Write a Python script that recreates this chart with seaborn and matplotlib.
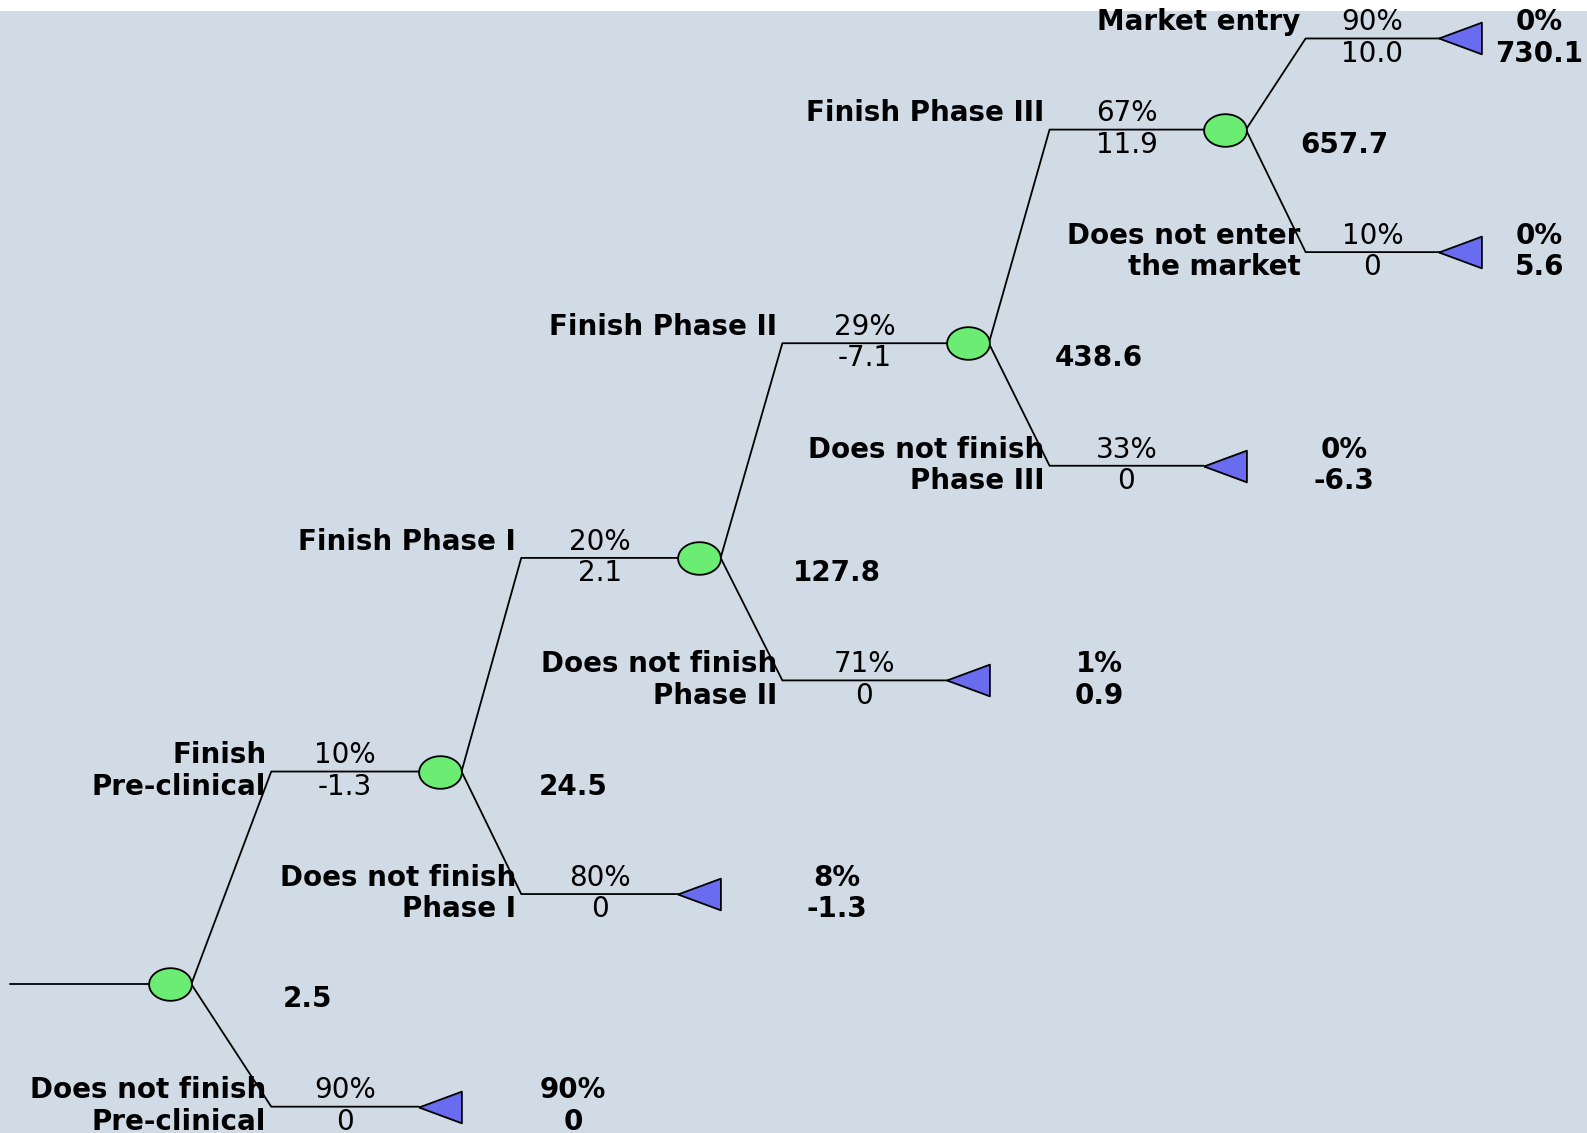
import numpy as np
import pandas as pd
import matplotlib
matplotlib.use("Agg")
import matplotlib.pyplot as plt
import seaborn as sns

# =====================
# data (read off the tree)
# =====================
UP_NAMES = ["Finish\nPre-clinical", "Finish Phase I", "Finish Phase II",
            "Finish Phase III", "Market entry"]
DOWN_NAMES = ["Does not finish\nPre-clinical", "Does not finish\nPhase I",
              "Does not finish\nPhase II", "Does not finish\nPhase III",
              "Does not enter\nthe market"]
P_UP = [10, 20, 29, 67, 90]
P_DOWN = [90, 80, 71, 33, 10]
COST_UP = [-1.3, 2.1, -7.1, 11.9, 10.0]
COST_DOWN = [0, 0, 0, 0, 0]
NODE_VALUES = [2.5, 24.5, 127.8, 438.6, 657.7]
TERM_PROB = [90, 8, 1, 0, 0]        # end of each "does not" branch
TERM_VALUE = [0, -1.3, 0.9, -6.3, 5.6]
TOP_PROB = 0                          # market entry end
TOP_VALUE = 730.1

# =====================
# layout (reference pixel grid)
# =====================
W, H = 1568, 1119
NODE_X = [168, 435, 691, 956, 1210, 1443]
NODE_Y = [972, 762, 551, 339, 128]
CORNER_X = [268, 515, 773, 1037, 1290]
VALUE_X = [304, 566, 827, 1086, 1328, 1521]
TOP_Y = 38
DROP = 121
R = 21
DY_UP, DY_DN = -16, 15

BG = "#d1dbe5"
GREEN = "#6aed72"
BLUE = "#6a6cf0"
FS = 20


def fmt(v):
    return "0" if v == 0 else f"{v:.1f}"


sns.set_theme(style="white")
plt.rcParams["font.family"] = ["DejaVu Sans"]
plt.rcParams["text.color"] = "black"

fig = plt.figure(figsize=(15.87, 11.33), dpi=100, facecolor="white")
ax = fig.add_axes([0, 0, 1, 1 - 11 / 1133])
ax.set_facecolor(BG)

# branch polylines
rows = []
rows += [dict(x=10, y=NODE_Y[0], seg="root"), dict(x=NODE_X[0] - R, y=NODE_Y[0], seg="root")]
for i in range(5):
    up_y = NODE_Y[i + 1] if i < 4 else TOP_Y
    dn_y = NODE_Y[i] + DROP
    for name, yy in (("up", up_y), ("dn", dn_y)):
        seg = f"{name}{i}"
        rows.append(dict(x=NODE_X[i] + R, y=NODE_Y[i], seg=seg))
        rows.append(dict(x=CORNER_X[i], y=yy, seg=seg))
        rows.append(dict(x=NODE_X[i + 1] - R, y=yy, seg=seg))
lines = pd.DataFrame(rows)
sns.lineplot(data=lines, x="x", y="y", units="seg", estimator=None, sort=False,
             color="black", lw=1.3, ax=ax)

# chance nodes (ellipses) and terminal triangles
t = np.linspace(0, 2 * np.pi, 60)
ellipse = np.column_stack([np.cos(t), 32 / 42 * np.sin(t)])
triangle = np.array([[-1, 0], [1, 0.74], [1, -0.74], [-1, 0]])

nodes = pd.DataFrame(dict(x=NODE_X[:5], y=NODE_Y))
sns.scatterplot(data=nodes, x="x", y="y", marker=ellipse, s=950, color=GREEN,
                edgecolor="black", linewidth=1.3, zorder=3, ax=ax)

term_x = [NODE_X[i + 1] for i in range(5)] + [NODE_X[5]]
term_y = [NODE_Y[i] + DROP for i in range(5)] + [TOP_Y]
terms = pd.DataFrame(dict(x=term_x, y=term_y))
sns.scatterplot(data=terms, x="x", y="y", marker=triangle, s=950, color=BLUE,
                edgecolor="black", linewidth=1.3, zorder=3, ax=ax)


def branch_label(name, x, y):
    parts = name.split("\n")
    ax.text(x, y + DY_UP, parts[0], ha="right", va="center", fontsize=FS,
            fontweight="bold")
    if len(parts) > 1:
        ax.text(x, y + DY_DN, parts[1], ha="right", va="center", fontsize=FS,
                fontweight="bold")


def pair(x, y, top, bottom, bold=False):
    w = "bold" if bold else "normal"
    ax.text(x, y + DY_UP, top, ha="center", va="center", fontsize=FS, fontweight=w)
    ax.text(x, y + DY_DN, bottom, ha="center", va="center", fontsize=FS, fontweight=w)


for i in range(5):
    up_y = NODE_Y[i + 1] if i < 4 else TOP_Y
    dn_y = NODE_Y[i] + DROP
    mid = (CORNER_X[i] + NODE_X[i + 1] - R) / 2
    branch_label(UP_NAMES[i], CORNER_X[i] - 5, up_y)
    branch_label(DOWN_NAMES[i], CORNER_X[i] - 5, dn_y)
    pair(mid, up_y, f"{P_UP[i]}%", fmt(COST_UP[i]))
    pair(mid, dn_y, f"{P_DOWN[i]}%", fmt(COST_DOWN[i]))
    ax.text(VALUE_X[i], NODE_Y[i] + DY_DN, f"{NODE_VALUES[i]:.1f}", ha="center",
            va="center", fontsize=FS, fontweight="bold")
    pair(VALUE_X[i + 1], dn_y, f"{TERM_PROB[i]}%", fmt(TERM_VALUE[i]), bold=True)

pair(VALUE_X[5], TOP_Y, f"{TOP_PROB}%", fmt(TOP_VALUE), bold=True)

ax.set_xlim(0, W)
ax.set_ylim(H, 11 * H / 1133)
ax.set_xticks([])
ax.set_yticks([])
ax.set_xlabel("")
ax.set_ylabel("")
for s in ax.spines.values():
    s.set_visible(False)

fig.savefig("out.png", dpi=100, facecolor="white")
